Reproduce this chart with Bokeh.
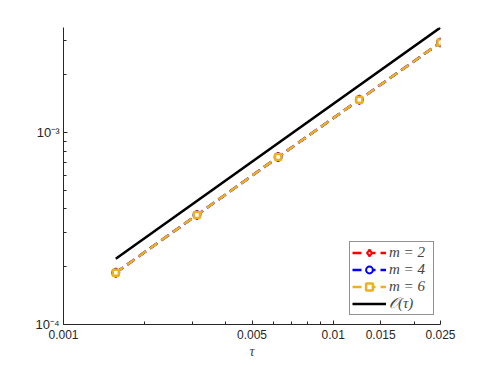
from bokeh.plotting import figure
from bokeh.models import Legend, LegendItem, FixedTicker
from bokeh.embed import file_html
from bokeh.resources import INLINE

# Data
tau = [0.0015625, 0.003125, 0.00625, 0.0125, 0.025]
err_m2 = [1.86e-4, 3.72e-4, 7.45e-4, 1.48e-3, 2.94e-3]
err_m4 = [1.86e-4, 3.72e-4, 7.45e-4, 1.48e-3, 2.94e-3]
err_m6 = [1.86e-4, 3.72e-4, 7.45e-4, 1.48e-3, 2.94e-3]
ref_tau = [2.2e-4, 3.52e-3]
ref_x = [0.0015625, 0.025]

x_ticks = [0.001, 0.005, 0.01, 0.015, 0.025]
x_minor = [0.002, 0.003, 0.004, 0.006, 0.007, 0.008, 0.009, 0.02]
y_ticks = [1e-4, 1e-3]
y_minor = [2e-4, 3e-4, 4e-4, 5e-4, 6e-4, 7e-4, 8e-4, 9e-4, 2e-3, 3e-3]
x_labels = {0.001: "0.001", 0.005: "0.005", 0.01: "0.01", 0.015: "0.015", 0.025: "0.025"}
y_labels = {1e-4: "10⁻⁴", 1e-3: "10⁻³"}

p = figure(width=478, height=362, x_axis_type="log", y_axis_type="log",
           x_range=(0.001, 0.025), y_range=(1e-4, 3.52e-3),
           output_backend="svg", toolbar_location=None,
           min_border_left=63, min_border_right=38, min_border_top=27, min_border_bottom=38)
p.outline_line_color = None
p.grid.visible = False
p.background_fill_color = "white"
p.border_fill_color = "white"

for ax in (p.xaxis[0], p.yaxis[0]):
    ax.axis_line_color = "#262626"
    ax.major_tick_line_color = "#262626"
    ax.minor_tick_line_color = "#262626"
    ax.major_tick_in = 4
    ax.major_tick_out = 0
    ax.minor_tick_in = 3
    ax.minor_tick_out = 0
    ax.major_label_text_font = "Liberation Sans"
    ax.major_label_text_font_size = "12px"
    ax.major_label_text_color = "#262626"

p.xaxis[0].ticker = FixedTicker(ticks=x_ticks, minor_ticks=x_minor)
p.yaxis[0].ticker = FixedTicker(ticks=y_ticks, minor_ticks=y_minor)
p.xaxis[0].major_label_overrides = x_labels
p.yaxis[0].major_label_overrides = y_labels
p.yaxis[0].major_label_text_font_size = "13px"
p.xaxis[0].major_label_standoff = 5
p.yaxis[0].major_label_standoff = 4
p.xaxis[0].axis_label = "τ"
p.xaxis[0].axis_label_text_font = "Liberation Serif"
p.xaxis[0].axis_label_text_font_style = "italic"
p.xaxis[0].axis_label_text_font_size = "14px"
p.xaxis[0].axis_label_standoff = 2

dash = "9 5"
r2l = p.line(tau, err_m2, line_color="#FF0000", line_width=2.5, line_dash=dash)
r2m = p.scatter(tau, err_m2, marker="diamond", size=9, line_color="#FF0000", fill_color="white", line_width=2)
r4l = p.line(tau, err_m4, line_color="#0000FF", line_width=2.5, line_dash=dash)
r4m = p.scatter(tau, err_m4, marker="circle", size=7, line_color="#0000FF", fill_color="white", line_width=2)
r6l = p.line(tau, err_m6, line_color="#EDB120", line_width=2.5, line_dash=dash)
r6m = p.scatter(tau, err_m6, marker="square", size=6, line_color="#EDB120", fill_color="white", line_width=2.5)
rref = p.line(ref_x, ref_tau, line_color="black", line_width=2.5)

legend = Legend(items=[
    LegendItem(label="m = 2", renderers=[r2l, r2m]),
    LegendItem(label="m = 4", renderers=[r4l, r4m]),
    LegendItem(label="m = 6", renderers=[r6l, r6m]),
    LegendItem(label="𝒪(τ)", renderers=[rref]),
], location=(286, 9))
legend.label_text_font = "Liberation Serif"
legend.label_text_font_style = "italic"
legend.label_text_font_size = "15px"
legend.label_height = 17
legend.label_width = 42
legend.glyph_height = 17
legend.glyph_width = 34
legend.label_standoff = 3
legend.spacing = 0
legend.padding = 2
legend.margin = 0
legend.border_line_color = "#262626"
legend.border_line_width = 1
legend.background_fill_alpha = 1
p.add_layout(legend, "center")

open("out.html", "w").write(file_html(p, INLINE))
